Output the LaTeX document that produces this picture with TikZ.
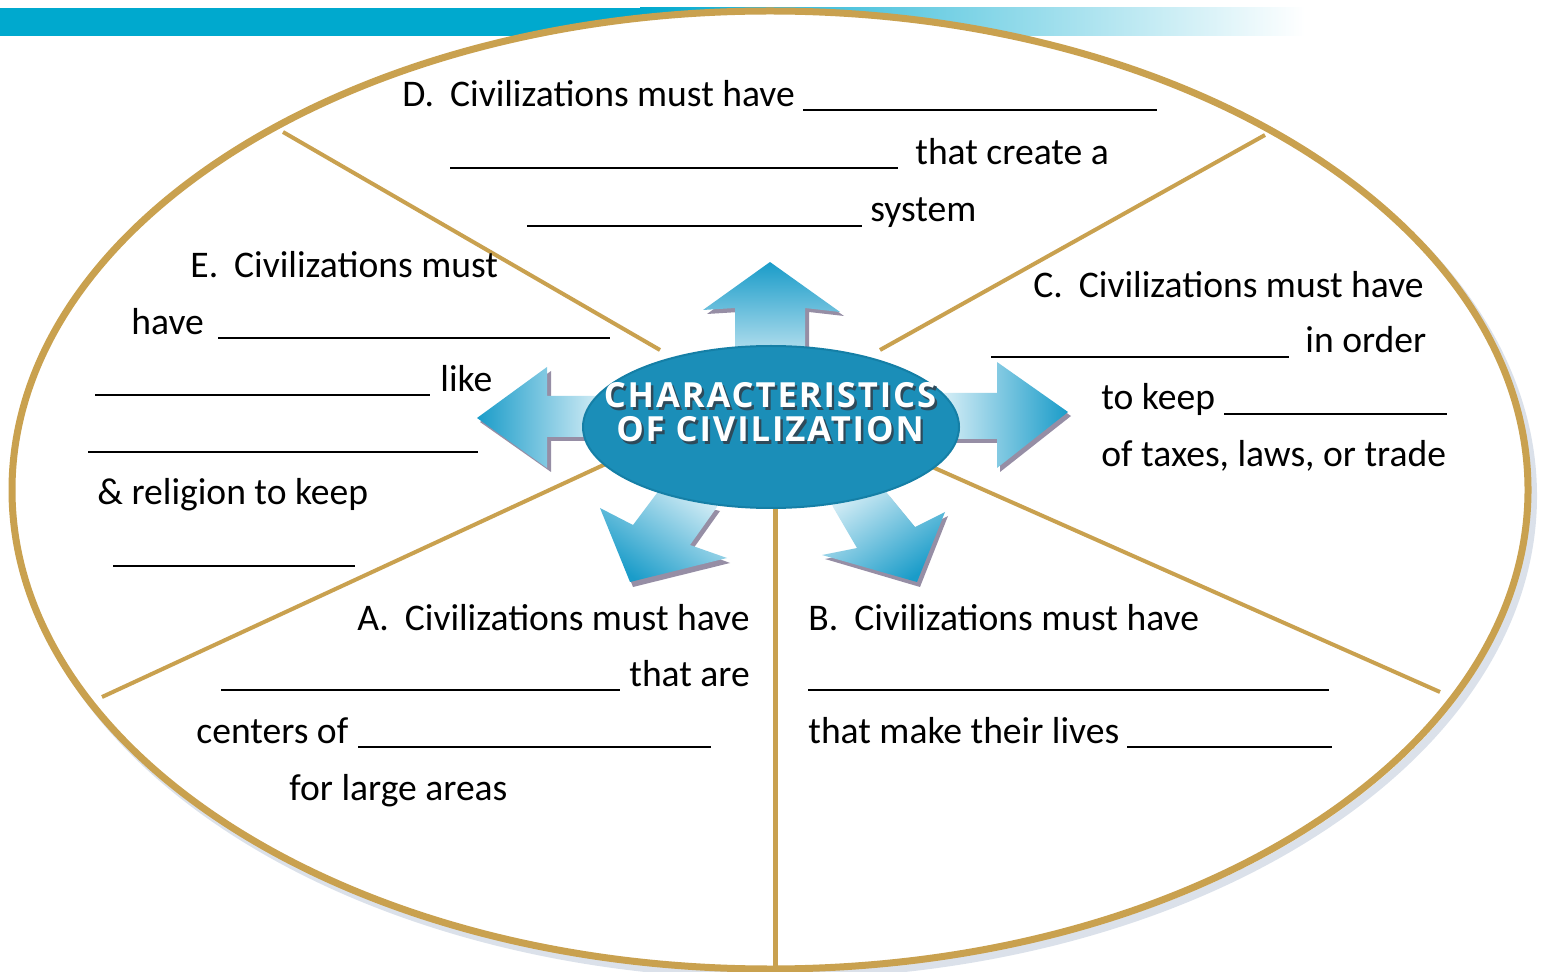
\documentclass[tikz,border=0pt]{standalone}
\usepackage{fontspec}
\setmainfont{Carlito}
\newfontfamily\titlefont[LetterSpace=5.5]{Open Sans}
\usetikzlibrary{shapes.geometric}
\definecolor{barblue}{HTML}{00A9CE}
\definecolor{gold}{HTML}{C9A14F}
\definecolor{arrowblue}{HTML}{1A9CC9}
\definecolor{arrowlight}{HTML}{E2F3F9}
\definecolor{coreblue}{HTML}{1B8EB8}
\definecolor{coreedge}{HTML}{157FA6}
\definecolor{shadowc}{HTML}{6A5F80}
\definecolor{halo}{HTML}{B8C4D6}
\definecolor{txtshadow}{HTML}{2E4A5A}
\newcommand{\shadowed}[1]{\makebox[0pt][l]{\hspace{1.2pt}\raisebox{-1.2pt}{\textcolor{txtshadow}{#1}}}\textcolor{white}{#1}}
\begin{document}
\begin{tikzpicture}[x=0.5pt,y=-0.5pt,
  txt/.style={anchor=base west, inner sep=0pt, font=\fontsize{18.8}{22}\selectfont},
  blank/.style={line width=1.4pt, black},
  divider/.style={draw=gold, line width=2pt},
  arrowshadow/.style={fill=shadowc, opacity=0.7},
  titletxt/.style={anchor=base, inner sep=0pt, font=\titlefont\bfseries\fontsize{17.3}{20}\selectfont}
]
\useasboundingbox (0,0) rectangle (1541,972);
% top bar
\fill[barblue] (0,8) rectangle (660,36);
\shade[left color=barblue, right color=white] (640,8) rectangle (1305,36);
% outer ellipse
\draw[halo, line width=4pt, opacity=0.5] (775,496) ellipse [x radius=758, y radius=479];
\draw[gold, line width=3.5pt, fill=white] (770,490) ellipse [x radius=758, y radius=479];
% dividers
\coordinate (ulo) at (283,132); \coordinate (uli) at (660,350);
\coordinate (uro) at (1265,135); \coordinate (uri) at (880,350);
\coordinate (llo) at (102,697); \coordinate (lli) at (610,462);
\coordinate (lro) at (1440,692); \coordinate (lri) at (930,466);
\coordinate (bo) at (775,968); \coordinate (bi) at (775,500);
\draw[divider] (ulo) -- (uli);
\draw[divider] (uro) -- (uri);
\draw[divider] (llo) -- (lli);
\draw[divider] (lro) -- (lri);
\draw[divider, line width=2.5pt] (bo) -- (bi);
% arrow shadows
\fill[arrowshadow] (739,355) -- (739,312) -- (707,314) -- (773,266) -- (844,316) -- (809,312) -- (809,355) -- cycle;
\fill[arrowshadow] (660,497) -- (636,529) -- (603,512) -- (633,587) -- (730,563) -- (693,549) -- (720,511) -- cycle;
\fill[arrowshadow] (836,511) -- (860,552) -- (825,559) -- (920,587) -- (948,516) -- (918,531) -- (890,497) -- cycle;
\fill[arrowshadow] (600,400) -- (551,400) -- (551,371) -- (480,422) -- (551,472) -- (551,441) -- (600,441) -- cycle;
\fill[arrowshadow] (945,397) -- (1000,397) -- (1000,367) -- (1071,416) -- (1000,472) -- (1000,443) -- (945,443) -- cycle;
% arrows
\shade[top color=arrowblue, bottom color=arrowlight] (735,380) -- (735,308) -- (703,310) -- (770,262) -- (840,312) -- (805,308) -- (805,380) -- cycle;
\shade[left color=arrowblue, right color=arrowlight] (610,396) -- (547,396) -- (547,367) -- (477,418) -- (547,468) -- (547,437) -- (610,437) -- cycle;
\shade[right color=arrowblue, left color=arrowlight] (935,393) -- (997,393) -- (997,362) -- (1068,412) -- (997,468) -- (997,439) -- (935,439) -- cycle;
\shade[top color=arrowlight, bottom color=arrowblue, shading angle=-35] (665,475) -- (657,493) -- (633,525) -- (600,508) -- (630,582) -- (727,558) -- (690,545) -- (717,507) -- (725,480) -- cycle;
\shade[top color=arrowlight, bottom color=arrowblue, shading angle=35] (825,480) -- (833,507) -- (857,548) -- (822,555) -- (917,582) -- (945,512) -- (915,527) -- (887,493) -- (880,475) -- cycle;
% core ellipse
\node[ellipse, fill=coreblue, draw=coreedge, line width=1pt, minimum width=188pt, minimum height=81pt, inner sep=0pt] (core) at (771,427) {};
\node[titletxt] (t1) at (770,408) {\shadowed{CHARACTERISTICS}};
\node[titletxt] (t2) at (770,442) {\shadowed{OF CIVILIZATION}};
% D
\node[txt] (d1) at (402,107) {D.\hspace{8pt}Civilizations must have};
\draw[blank] (803,110) -- (1157,110);
\draw[blank] (450,168) -- (898,168);
\node[txt] (d2) at (915,165) {that create a};
\draw[blank] (527,226) -- (862,226);
\node[txt] (d3) at (870,222) {system};
% E
\node[txt] (e1) at (190,278) {E.\hspace{8pt}Civilizations must};
\node[txt] (e2) at (131,335) {have};
\draw[blank] (218,338) -- (610,338);
\draw[blank] (95,395) -- (430,395);
\node[txt] (e3) at (440,392) {like};
\draw[blank] (88,452) -- (478,452);
\node[txt] (e4) at (97,505) {\& religion to keep};
\draw[blank] (113,566) -- (355,566);
% C
\node[txt] (c1) at (1033,298) {C.\hspace{8pt}Civilizations must have};
\draw[blank] (991,357) -- (1289,357);
\node[txt] (c2) at (1305,353) {in order};
\node[txt] (c3) at (1101,410) {to keep};
\draw[blank] (1224,414) -- (1447,414);
\node[txt] (c4) at (1101,467) {of taxes, laws, or trade};
% A
\node[txt] (a1) at (357,630) {A.\hspace{8pt}Civilizations must have};
\draw[blank] (221,690) -- (620,690);
\node[txt] (a2) at (629,686) {that are};
\node[txt] (a3) at (196,743) {centers of};
\draw[blank] (358,747) -- (711,747);
\node[txt] (a4) at (289,800) {for large areas};
% B
\node[txt] (b1) at (808,630) {B.\hspace{8pt}Civilizations must have};
\draw[blank] (808,690) -- (1329,690);
\node[txt] (b2) at (808,743) {that make their lives};
\draw[blank] (1127,747) -- (1332,747);
\end{tikzpicture}
\end{document}
